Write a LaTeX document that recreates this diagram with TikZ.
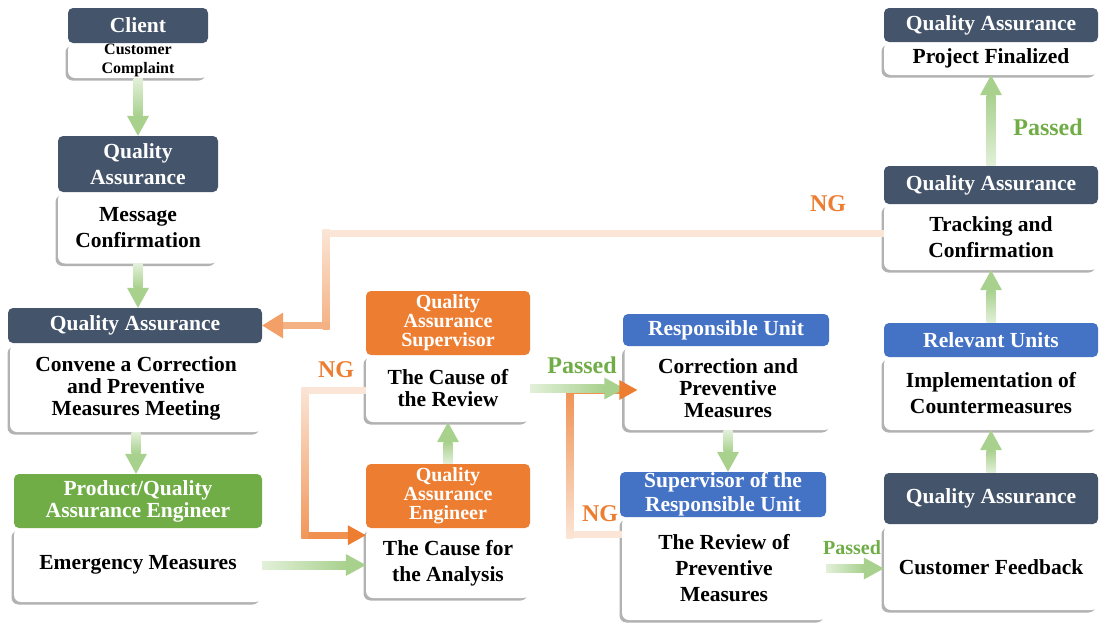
\documentclass[tikz,border=0pt]{standalone}
\usepackage{fontspec}
\setmainfont{Liberation Serif}
\usetikzlibrary{calc,shadows}
\definecolor{navy}{HTML}{44546A}
\definecolor{ora}{HTML}{ED7D31}
\definecolor{blu}{HTML}{4472C4}
\definecolor{grn}{HTML}{70AD47}
\definecolor{gend}{HTML}{A9D18E}
\definecolor{gpale}{HTML}{E2F0D9}
\definecolor{opale}{HTML}{FBE5D6}
\definecolor{omid}{HTML}{F4B183}
\definecolor{ohead}{HTML}{F2A068}
\newcommand\Gdown[2]{%
  \shade[top color=gpale,bottom color=gend] ($(#1)+(-4.5,0)$) rectangle ($(#2)+(4.5,-20)$);
  \fill[gend] ($(#2)+(-11,-20)$) -- (#2) -- ($(#2)+(11,-20)$) -- cycle;}
\newcommand\Gup[2]{%
  \shade[top color=gend,bottom color=gpale] ($(#1)+(-4.5,0)$) rectangle ($(#2)+(4.5,20)$);
  \fill[gend] ($(#2)+(-11,20)$) -- (#2) -- ($(#2)+(11,20)$) -- cycle;}
\newcommand\Gright[2]{%
  \shade[left color=gpale,right color=gend] ($(#1)+(0,-4)$) rectangle ($(#2)+(-20,4)$);
  \fill[gend] ($(#2)+(-20,-11)$) -- (#2) -- ($(#2)+(-20,11)$) -- cycle;}
\begin{document}
\begin{tikzpicture}[x=1pt,y=-1pt,
  hdr/.style={rectangle, rounded corners=5pt, text=white, align=center, inner sep=0pt,
    font=\bfseries\fontsize{21.5}{22}\selectfont},
  bodyb/.style={rectangle, rounded corners=7pt, fill=white, text=black, align=center, inner sep=0pt,
    drop shadow={shadow xshift=-2.5pt,shadow yshift=-2.5pt,opacity=0.3,fill=black},
    font=\bfseries\fontsize{21.5}{22}\selectfont},
  lbl/.style={inner sep=0pt, font=\bfseries\fontsize{24}{24}\selectfont}]
\useasboundingbox (0,0) rectangle (1100,622);
\fill[white] (0,0) rectangle (1100,622);

% ---- bodies ----
\node[bodyb, minimum width=140pt, minimum height=35pt, font=\bfseries\fontsize{16}{19}\selectfont] (clb) at (138,60.5) {Customer\\Complaint};
\node[bodyb, minimum width=160pt, minimum height=71pt, font=\bfseries\fontsize{21.5}{26}\selectfont] (qa2b) at (138,228) {Message\\Confirmation};
\node[bodyb, minimum width=252pt, minimum height=88pt] (qa3b) at (136,388) {Convene a Correction\\and Preventive\\Measures Meeting};
\node[bodyb, minimum width=248pt, minimum height=74pt] (gb) at (138,565) {Emergency Measures};
\node[bodyb, minimum width=164pt, minimum height=67pt] (sb) at (448,388.5) {The Cause of\\the Review};
\node[bodyb, minimum width=164pt, minimum height=70pt, font=\bfseries\fontsize{21.5}{26}\selectfont] (eb) at (448,563) {The Cause for\\the Analysis};
\node[bodyb, minimum width=207pt, minimum height=84pt] (cb) at (728,388) {Correction and\\Preventive\\Measures};
\node[bodyb, minimum width=204pt, minimum height=103pt, font=\bfseries\fontsize{21.5}{26}\selectfont] (srb) at (724,568.5) {The Review of\\Preventive\\Measures};
\node[bodyb, minimum width=214pt, minimum height=33pt] (ptb) at (991,58.5) {Project Finalized};
\node[bodyb, minimum width=214pt, minimum height=66pt, font=\bfseries\fontsize{21.5}{26}\selectfont] (trb) at (991,237) {Tracking and\\Confirmation};
\node[bodyb, minimum width=214pt, minimum height=73pt, font=\bfseries\fontsize{21.5}{26}\selectfont] (rlb) at (991,393.5) {Implementation of\\Countermeasures};
\node[bodyb, minimum width=214pt, minimum height=85pt] (cfb) at (991,567.5) {Customer Feedback};

% ---- headers ----
\node[hdr, fill=navy, minimum width=140pt, minimum height=35pt] (clh) at (138,25.5) {Client};
\node[hdr, fill=navy, minimum width=160pt, minimum height=56pt, font=\bfseries\fontsize{21.5}{26}\selectfont] (qa2h) at (138,164) {Quality\\Assurance};
\node[hdr, fill=navy, minimum width=254pt, minimum height=35pt] (qa3h) at (135,325.5) {Quality Assurance};
\node[hdr, fill=grn, minimum width=248pt, minimum height=54pt] (gh) at (138,501) {Product/Quality\\Assurance Engineer};
\node[hdr, fill=ora, minimum width=164pt, minimum height=64pt, font=\bfseries\fontsize{20}{19}\selectfont] (sh) at (448,323) {Quality\\Assurance\\Supervisor};
\node[hdr, fill=ora, minimum width=164pt, minimum height=64pt, font=\bfseries\fontsize{20}{19}\selectfont] (eh) at (448,496) {Quality\\Assurance\\Engineer};
\node[hdr, fill=blu, minimum width=206pt, minimum height=32pt] (ch) at (726,330) {Responsible Unit};
\node[hdr, fill=blu, minimum width=206pt, minimum height=45pt, font=\bfseries\fontsize{21.5}{24}\selectfont] (srh) at (723,494.5) {Supervisor of the\\Responsible Unit};
\node[hdr, fill=navy, minimum width=214pt, minimum height=34pt] (pth) at (991,25) {Quality Assurance};
\node[hdr, fill=navy, minimum width=214pt, minimum height=38pt] (trh) at (991,185) {Quality Assurance};
\node[hdr, fill=blu, minimum width=214pt, minimum height=34pt] (rlh) at (991,340) {Relevant Units};
\node[hdr, fill=navy, minimum width=214pt, minimum height=51pt] (cfh) at (991,498.5) {Quality Assurance};

% ---- helper coordinates ----
\coordinate (t2) at (qa2b.south |- qa3h.north);
\coordinate (t3) at (qa3b.south |- gh.north);
\coordinate (t4) at (eb.west |- gb.east);
\coordinate (t6) at (cb.west |- sb.east);
\coordinate (t7) at (cb.south |- srh.north);
\coordinate (t8) at (cfb.west |- srb.east);

% ---- green connectors ----
\Gdown{clb.south}{qa2h.north}
\Gdown{qa2b.south}{t2}
\Gdown{qa3b.south}{t3}
\Gright{gb.east}{t4}
\Gup{eh.north}{sb.south}
\Gdown{cb.south}{t7}
\Gright{srb.east}{t8}
\Gup{cfh.north}{rlb.south}
\Gup{rlh.north}{trb.south}
\Gup{trh.north}{ptb.south}

% ---- NG: tracking -> QA meeting ----
\coordinate (n1a) at (trb.west);
\coordinate (n1b) at ($(trb.west -| qa3h.east)+(64,-4)$);
\coordinate (n1c) at ($(qa3h.east)+(64,0)$);
\fill[opale] ($(n1b)+(-3.5,-3.5)$) rectangle ($(n1a)+(0,-0.5)$);
\shade[top color=opale,bottom color=omid] ($(n1b)+(-3.5,-3.5)$) rectangle ($(n1c)+(3.5,3.5)$);
\fill[omid] ($(n1c)+(3.5,-3.5)$) rectangle ($(qa3h.east)+(20,3.5)$);
\fill[ohead] ($(qa3h.east)+(21,-13)$) -- (qa3h.east) -- ($(qa3h.east)+(21,13)$) -- cycle;

% ---- NG: review -> analysis ----
\coordinate (n2b) at ($(sb.west)+(-61,2)$);
\coordinate (n2c) at ($(eh.south west)+(-61,7)$);
\coordinate (n2t) at ($(eh.south west)+(0,7)$);
\fill[opale] ($(n2b)+(-3.5,-3.5)$) rectangle ($(sb.west)+(0,5.5)$);
\shade[top color=opale,bottom color=ora!80] ($(n2b)+(-3.5,-3.5)$) rectangle ($(n2c)+(3.5,3.5)$);
\fill[ora!85] ($(n2c)+(3.5,-3.5)$) rectangle ($(n2t)+(-17,3.5)$);
\fill[ora] ($(n2t)+(-18,-10)$) -- (n2t) -- ($(n2t)+(-18,10)$) -- cycle;

% ---- NG: review of preventive -> correction ----
\coordinate (n3a) at ($(srb.north west)+(0,18)$);
\coordinate (n3b) at ($(srb.north west)+(-52,18)$);
\coordinate (n3c) at ($(cb.west)+(-54.5,2)$);
\coordinate (n3t) at ($(cb.west)+(13,2)$);
\fill[opale] ($(n3b)+(-3.5,-3.5)$) rectangle ($(n3a)+(0,3.5)$);
\shade[top color=ora!85,bottom color=opale] ($(n3c)+(-3.5,-3.5)$) rectangle ($(n3b)+(3.5,3.5)$);
\fill[ora!85] ($(n3c)+(-3.5,-3.5)$) rectangle ($(n3t)+(-17,3.5)$);
\Gright{sb.east}{t6}
\fill[ora] ($(n3t)+(-18,-10)$) -- (n3t) -- ($(n3t)+(-18,10)$) -- cycle;

% ---- labels ----
\node[lbl, text=grn] (p1) at (582,365) {Passed};
\node[lbl, text=grn] (p2) at (1048,127) {Passed};
\node[lbl, text=grn, font=\bfseries\fontsize{20}{20}\selectfont] (p3) at (852,548) {Passed};
\node[lbl, text=ora] (ng1) at (828,204) {NG};
\node[lbl, text=ora] (ng2) at (336,370) {NG};
\node[lbl, text=ora] (ng3) at (600,514) {NG};
\end{tikzpicture}
\end{document}
